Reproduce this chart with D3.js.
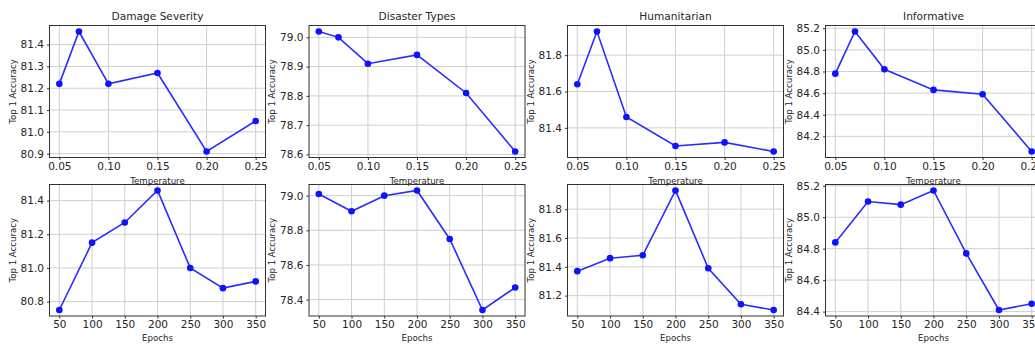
<!DOCTYPE html>
<html>
<head>
<meta charset="utf-8">
<script src="https://cdn.jsdelivr.net/npm/d3@7"></script>
<style>
  html, body { margin: 0; padding: 0; background: #fff; }
  svg { display: block; font-family: "DejaVu Sans", sans-serif; }
</style>
</head>
<body>
<svg id="chart" width="1035" height="346"></svg>
<script>
// ---- data ----
const categories = ["Damage Severity", "Disaster Types", "Humanitarian", "Informative"];
const temperatures = [0.05, 0.07, 0.10, 0.15, 0.20, 0.25];
const temperatureTicks = [0.05, 0.10, 0.15, 0.20, 0.25];
const epochs = [50, 100, 150, 200, 250, 300, 350];
const epochTicks = [50, 100, 150, 200, 250, 300, 350];

const damageTemp = [81.22, 81.46, 81.22, 81.27, 80.91, 81.05];
const disasterTemp = [79.02, 79.00, 78.91, 78.94, 78.81, 78.61];
const humanTemp = [81.64, 81.93, 81.46, 81.30, 81.32, 81.27];
const informTemp = [84.78, 85.17, 84.82, 84.63, 84.59, 84.06];

const damageEpoch = [80.75, 81.15, 81.27, 81.46, 81.00, 80.88, 80.92];
const disasterEpoch = [79.01, 78.91, 79.00, 79.03, 78.75, 78.34, 78.47];
const humanEpoch = [81.37, 81.46, 81.48, 81.93, 81.39, 81.14, 81.10];
const informEpoch = [84.84, 85.10, 85.08, 85.17, 84.77, 84.41, 84.45];

const yTicksTemp = [
  [80.9, 81.0, 81.1, 81.2, 81.3, 81.4],
  [78.6, 78.7, 78.8, 78.9, 79.0],
  [81.4, 81.6, 81.8],
  [84.2, 84.4, 84.6, 84.8, 85.0, 85.2]
];
const yTicksEpoch = [
  [80.8, 81.0, 81.2, 81.4],
  [78.4, 78.6, 78.8, 79.0],
  [81.2, 81.4, 81.6, 81.8],
  [84.4, 84.6, 84.8, 85.0, 85.2]
];

// ---- layout ----
const svg = d3.select("#chart");
svg.append("rect").attr("width", 1035).attr("height", 346).attr("fill", "#fff");

const panelLefts = [49.5, 309, 567.5, 825.5];
const panelW = 216;
const rows = [
  { top: 25.5, bottom: 157.5, xs: temperatures, xt: temperatureTicks, fmt: d3.format(".2f"),
    series: [damageTemp, disasterTemp, humanTemp, informTemp], yt: yTicksTemp, xlabel: "Temperature", xlabelY: 183.5, title: true },
  { top: 184.5, bottom: 316, xs: epochs, xt: epochTicks, fmt: d3.format("d"),
    series: [damageEpoch, disasterEpoch, humanEpoch, informEpoch], yt: yTicksEpoch, xlabel: "Epochs", xlabelY: 341, title: false }
];

const textColor = "#262626";

function padded(ext) {
  const m = (ext[1] - ext[0]) * 0.05;
  return [ext[0] - m, ext[1] + m];
}

rows.forEach(row => {
  categories.forEach((cat, i) => {
    const left = panelLefts[i], right = left + panelW;
    const vals = row.series[i];
    const x = d3.scaleLinear().domain(padded(d3.extent(row.xs))).range([left, right]);
    const y = d3.scaleLinear().domain(padded(d3.extent(vals))).range([row.bottom, row.top]);

    const g = svg.append("g");

    // grid
    g.selectAll(".vg").data(row.xt).enter().append("line")
      .attr("x1", d => x(d)).attr("x2", d => x(d))
      .attr("y1", row.top).attr("y2", row.bottom)
      .attr("stroke", "#cfcfcf").attr("stroke-width", 1);
    g.selectAll(".hg").data(row.yt[i]).enter().append("line")
      .attr("x1", left).attr("x2", right)
      .attr("y1", d => y(d)).attr("y2", d => y(d))
      .attr("stroke", "#cfcfcf").attr("stroke-width", 1);

    // axes
    const xAxis = d3.axisBottom(x).tickValues(row.xt).tickFormat(row.fmt).tickSize(2.5).tickPadding(2.5);
    const yAxis = d3.axisLeft(y).tickValues(row.yt[i]).tickFormat(d3.format(".1f")).tickSize(2.5).tickPadding(3);
    const xg = g.append("g").attr("transform", `translate(0,${row.bottom})`).call(xAxis);
    const yg = g.append("g").attr("transform", `translate(${left},0)`).call(yAxis);
    [xg, yg].forEach(a => {
      a.select(".domain").remove();
      a.selectAll("line").attr("stroke", "#333");
      a.selectAll("text").attr("fill", textColor).style("font-size", "10.5px")
        .style("font-family", "DejaVu Sans, sans-serif");
    });

    // frame
    g.append("rect").attr("x", left).attr("y", row.top)
      .attr("width", panelW).attr("height", row.bottom - row.top)
      .attr("fill", "none").attr("stroke", "#333").attr("stroke-width", 1);

    // line + markers
    const pts = row.xs.map((xv, k) => [xv, vals[k]]);
    g.append("path").datum(pts)
      .attr("d", d3.line().x(d => x(d[0])).y(d => y(d[1])))
      .attr("fill", "none").attr("stroke", "#2b2bff").attr("stroke-width", 1.6);
    g.selectAll(".pt").data(pts).enter().append("circle")
      .attr("cx", d => x(d[0])).attr("cy", d => y(d[1])).attr("r", 3.3)
      .attr("fill", "#0a14ff");

    // labels
    if (row.title) {
      g.append("text").attr("x", (left + right) / 2).attr("y", 20)
        .attr("text-anchor", "middle").attr("fill", textColor)
        .style("font-size", "10.6px").text(cat);
    }
    g.append("text").attr("x", (left + right) / 2).attr("y", row.xlabelY)
      .attr("text-anchor", "middle").attr("fill", textColor)
      .style("font-size", "8.6px").text(row.xlabel);
    const cy = (row.top + row.bottom) / 2;
    g.append("text")
      .attr("transform", `translate(${left - 34},${cy}) rotate(-90)`)
      .attr("text-anchor", "middle").attr("fill", textColor)
      .style("font-size", "8.6px").text("Top 1 Accuracy");
  });
});
</script>
</body>
</html>
